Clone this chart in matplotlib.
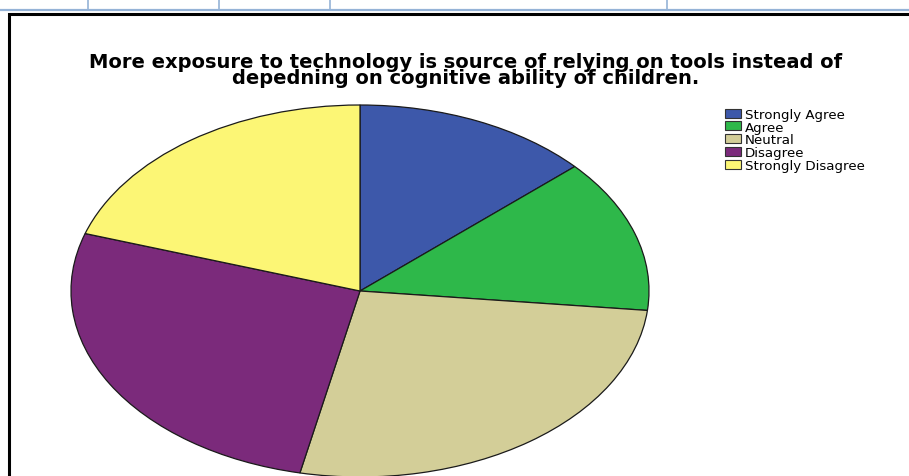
import numpy as np
import matplotlib
matplotlib.use("Agg")
from matplotlib import pyplot as plt
from matplotlib.patches import Patch

# response counts
labels = ["Strongly Agree", "Agree", "Neutral", "Disagree", "Strongly Disagree"]
counts = [20, 20, 40, 40, 30]
colors = ["#3D58AA", "#2EB84A", "#D3CE98", "#7B2A7B", "#FCF675"]

title = ("More exposure to technology is source of relying on tools instead of\n"
         "depedning on cognitive ability of children.")

W, H = 909, 477
fig = plt.figure(figsize=(W / 100, H / 100), dpi=100)
fig.patch.set_facecolor("white")

# background axes in pixel coords for the frame / table lines
bg = fig.add_axes([0, 0, 1, 1])
bg.set_xlim(0, W)
bg.set_ylim(H, 0)
bg.axis("off")
bg.plot([0, W], [10.5, 10.5], color="#95B3D7", lw=1.6, solid_capstyle="butt")
for xv in [88, 219, 330, 667]:
    bg.plot([xv, xv], [0, 10.5], color="#95B3D7", lw=1.2)
bg.plot([9, 9, W], [H, 15, 15], color="black", lw=2.2, solid_joinstyle="miter")

# pie, stretched into an ellipse
cx, cy, rx, ry = 360, 292, 289, 186
ax = fig.add_axes([(cx - rx) / W, (H - cy - ry) / H, 2 * rx / W, 2 * ry / H])
wedges, _ = ax.pie(counts, colors=colors, startangle=90, counterclock=False,
                   wedgeprops=dict(edgecolor="#1a1a1a", linewidth=0.9))
ax.set_aspect("auto")
ax.set_xlim(-1, 1)
ax.set_ylim(-1, 1)
ax.axis("off")

fig.text(466 / W, 1 - 53 / H, title, ha="center", va="top",
         fontsize=14.0, fontweight="bold", family="DejaVu Sans",
         linespacing=0.8)

handles = [Patch(facecolor=c, edgecolor="#333333", linewidth=0.8) for c in colors]
fig.legend(handles, labels, loc="upper left", bbox_to_anchor=(716 / W, 1 - 99.5 / H),
           frameon=False, prop=dict(family="DejaVu Sans", size=9.6),
           handlelength=1.2, handleheight=0.68, handletextpad=0.28,
           labelspacing=-0.02, borderpad=0.2)

fig.savefig("out.png", dpi=100)
